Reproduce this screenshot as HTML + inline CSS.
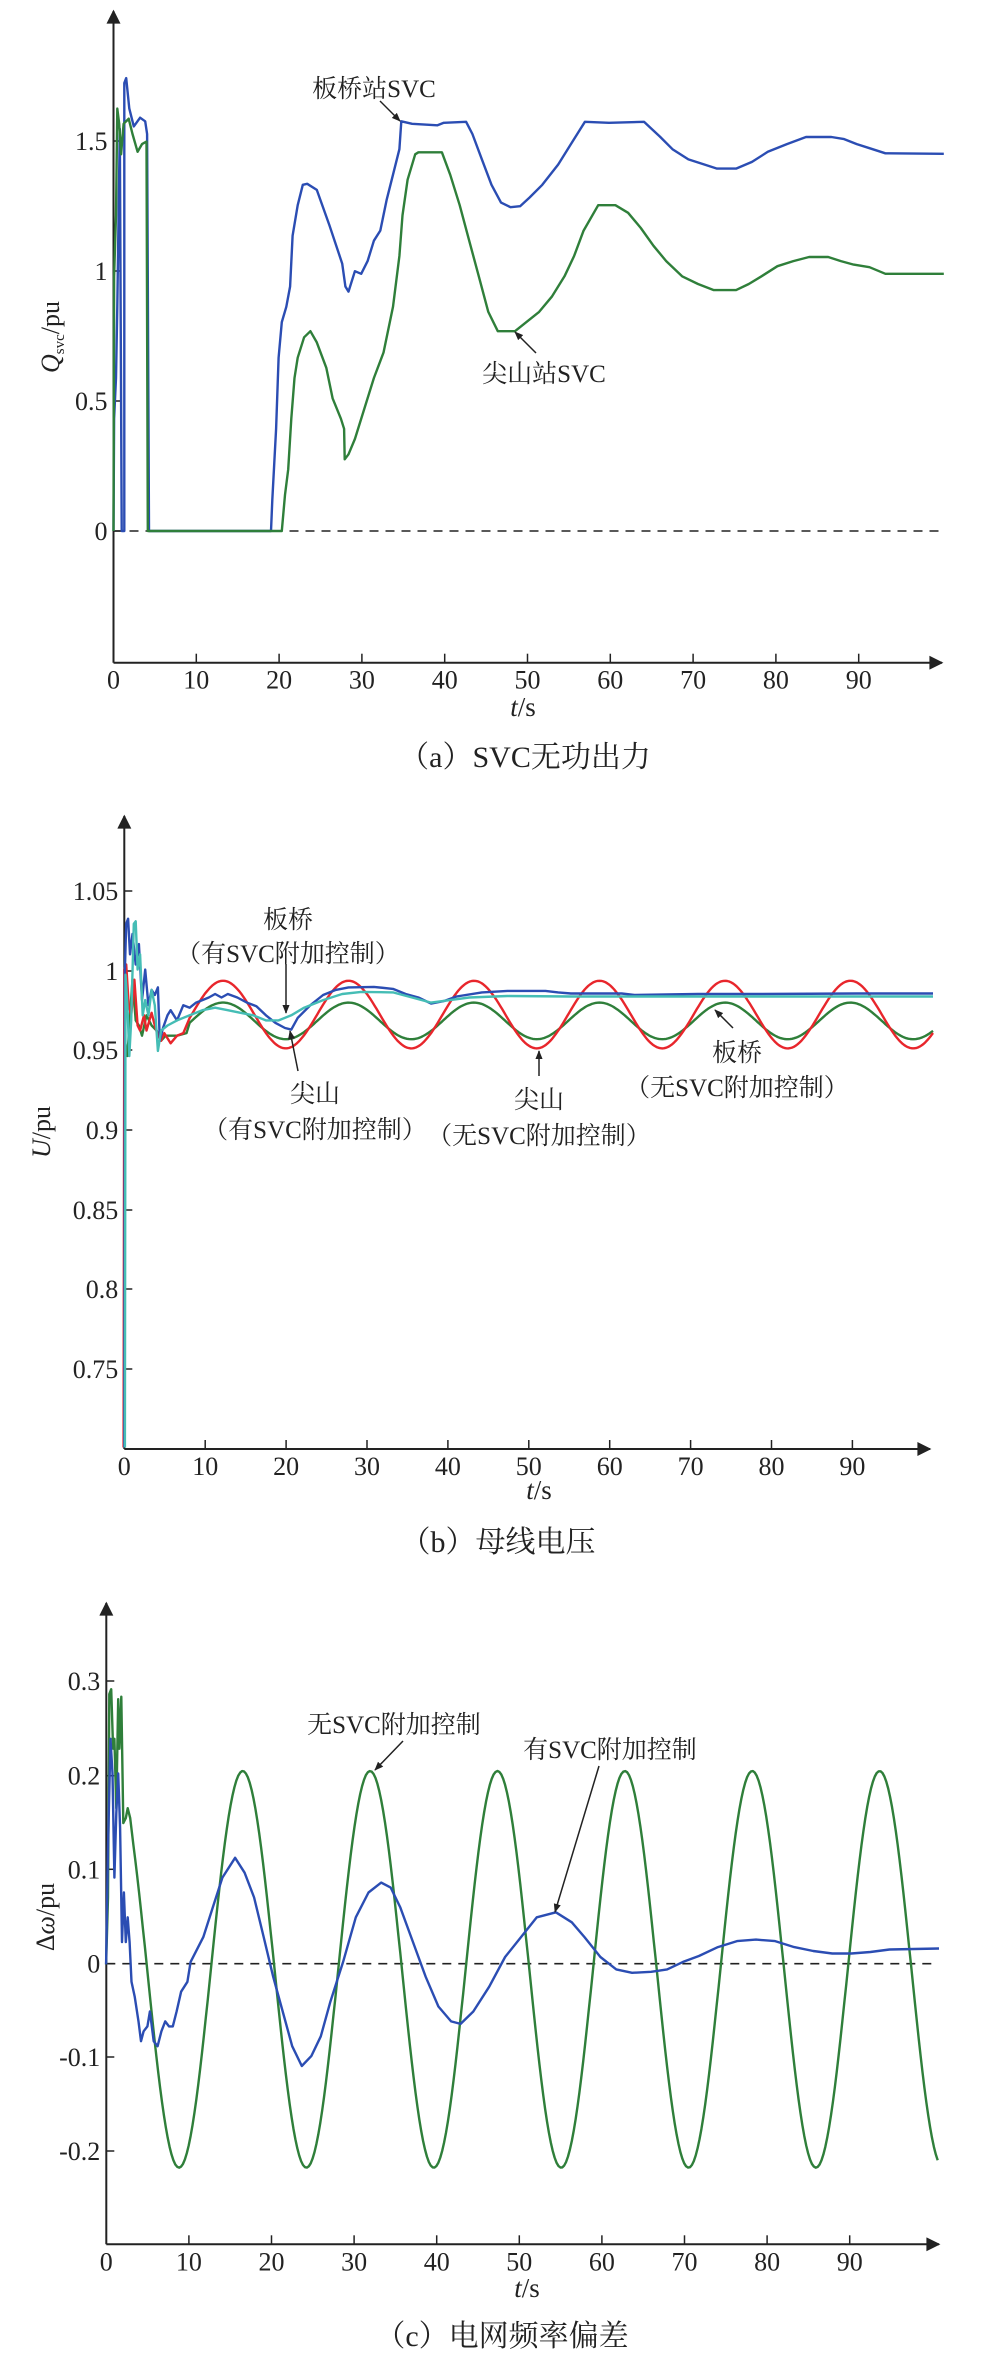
<!DOCTYPE html>
<html><head><meta charset="utf-8"><style>
html,body{margin:0;padding:0;background:#fff;}
svg{display:block;}
text{font-family:"Liberation Serif","Noto Serif CJK SC","Noto Sans CJK SC",serif;fill:#222;}
.tk{font-size:26px;}
.an{font-size:25px;}
.cap{font-size:30px;}
</style></head><body>
<svg id="s" width="995" height="2377" viewBox="0 0 995 2377" xmlns="http://www.w3.org/2000/svg">
<defs>
<marker id="ah" viewBox="0 0 10 10" refX="9" refY="5" markerWidth="9" markerHeight="9" orient="auto" markerUnits="userSpaceOnUse"><path d="M0,1 L10,5 L0,9 Z" fill="#222"/></marker>
<marker id="ax" viewBox="0 0 10 10" refX="9" refY="5" markerWidth="20" markerHeight="14" orient="auto" markerUnits="userSpaceOnUse"><path d="M0,0 L10,5 L0,10 Z" fill="#222"/></marker>
</defs>
<g id="g"></g>
<text class="an" x="374" y="97" text-anchor="middle">板桥站SVC</text>
<line x1="380" y1="101" x2="400" y2="121" stroke="#222" stroke-width="1.5" marker-end="url(#ah)"/>
<text class="an" x="544" y="382" text-anchor="middle">尖山站SVC</text>
<line x1="536" y1="353" x2="515" y2="332" stroke="#222" stroke-width="1.5" marker-end="url(#ah)"/>
<text x="59" y="337" font-size="26" text-anchor="middle" transform="rotate(-90 59 337)"><tspan font-style="italic">Q</tspan><tspan font-size="15" dy="5">svc</tspan><tspan dy="-5">/pu</tspan></text>
<text class="cap" x="525" y="767" text-anchor="middle">（a）SVC无功出力</text>
<text x="523" y="716" font-size="27" text-anchor="middle"><tspan font-style="italic">t</tspan>/s</text>
<text class="an" x="288" y="928" text-anchor="middle">板桥</text>
<text class="an" x="288" y="962" text-anchor="middle">（有SVC附加控制）</text>
<line x1="286" y1="964" x2="286" y2="1013" stroke="#222" stroke-width="1.5" marker-end="url(#ah)"/>
<text class="an" x="315" y="1102" text-anchor="middle">尖山</text>
<text class="an" x="315" y="1138" text-anchor="middle">（有SVC附加控制）</text>
<line x1="298" y1="1071" x2="290" y2="1031" stroke="#222" stroke-width="1.5" marker-end="url(#ah)"/>
<text class="an" x="539" y="1108" text-anchor="middle">尖山</text>
<text class="an" x="539" y="1144" text-anchor="middle">（无SVC附加控制）</text>
<line x1="539" y1="1076" x2="539" y2="1051" stroke="#222" stroke-width="1.5" marker-end="url(#ah)"/>
<text class="an" x="737" y="1061" text-anchor="middle">板桥</text>
<text class="an" x="737" y="1096" text-anchor="middle">（无SVC附加控制）</text>
<line x1="733" y1="1028" x2="715" y2="1010" stroke="#222" stroke-width="1.5" marker-end="url(#ah)"/>
<text x="50" y="1132" font-size="26" text-anchor="middle" transform="rotate(-90 50 1132)"><tspan font-style="italic">U</tspan>/pu</text>
<text class="cap" x="498" y="1552" text-anchor="middle">（b）母线电压</text>
<text x="539" y="1499" font-size="27" text-anchor="middle"><tspan font-style="italic">t</tspan>/s</text>
<text class="an" x="394" y="1733" text-anchor="middle">无SVC附加控制</text>
<line x1="403" y1="1741" x2="375" y2="1770" stroke="#222" stroke-width="1.5" marker-end="url(#ah)"/>
<text class="an" x="610" y="1758" text-anchor="middle">有SVC附加控制</text>
<line x1="599" y1="1766" x2="555" y2="1912" stroke="#222" stroke-width="1.5" marker-end="url(#ah)"/>
<text x="54" y="1917" font-size="26" text-anchor="middle" transform="rotate(-90 54 1917)">Δ<tspan font-style="italic">ω</tspan>/pu</text>
<text class="cap" x="502" y="2346" text-anchor="middle">（c）电网频率偏差</text>
<text x="527" y="2297" font-size="27" text-anchor="middle"><tspan font-style="italic">t</tspan>/s</text>
</svg>
<script>
(function(){
var g=document.getElementById('g'),NS='http://www.w3.org/2000/svg';
function el(n,a,t){var e=document.createElementNS(NS,n);for(var k in a)e.setAttribute(k,a[k]);if(t!==undefined)e.textContent=t;g.appendChild(e);return e;}
function path(pts,col,w){var d='';pts.forEach(function(p,i){d+=(i?'L':'M')+p[0].toFixed(1)+','+p[1].toFixed(1);});el('path',{d:d,fill:'none',stroke:col,'stroke-width':w||2.4,'stroke-linejoin':'round'});}
var BL='#2b4db3',GR='#2f7f3a',RD='#e8262c',CY='#45bdb5';
function axes(x0,yb,ytop,xend,xt,yt){
 el('line',{x1:x0,y1:yb,x2:x0,y2:ytop+2,stroke:'#222','stroke-width':2,'marker-end':'url(#ax)'});
 el('line',{x1:x0,y1:yb,x2:xend,y2:yb,stroke:'#222','stroke-width':2,'marker-end':'url(#ax)'});
 xt.forEach(function(t){ if(t[1]!=='0') el('line',{x1:t[0],y1:yb,x2:t[0],y2:yb-9,stroke:'#222','stroke-width':1.5}); el('text',{x:t[0],y:yb+26,'class':'tk','text-anchor':'middle'},t[1]);});
 yt.forEach(function(t){ el('line',{x1:x0,y1:t[0],x2:x0+8,y2:t[0],stroke:'#222','stroke-width':1.5}); el('text',{x:x0-6,y:t[0]+9,'class':'tk','text-anchor':'end'},t[1]);});
}
function A(p){return p.map(function(q){return [q[0]/1.574-0.9, q[1]/1.967+1.8];});}
var xa=[];for(var i=0;i<10;i++)xa.push([113.5+i*82.8,''+i*10]);
axes(113.5,662.7,9,942,xa,[[531,'0'],[401,'0.5'],[271,'1'],[141,'1.5']]);
el('line',{x1:113.5,y1:531,x2:940,y2:531,stroke:'#222','stroke-width':1.6,'stroke-dasharray':'9,7'});
path(A([[180,1041],[181,820],[184,740],[186,600],[190,250],[193,1041],[197,1041],[197,160],[200,150],[205,210],[212,245],[222,228],[230,235],[233,260],[236,1041],[428,1041],[430,980],[433,910],[436,840],[440,700],[445,630],[452,600],[458,560],[462,460],[470,400],[478,360],[485,358],[500,370],[520,440],[540,515],[545,560],[550,570],[560,530],[570,535],[580,510],[590,470],[600,450],[610,390],[620,340],[630,290],[633,235],[650,240],[690,243],[700,238],[735,236],[745,260],[760,310],[775,360],[790,395],[805,404],[820,402],[835,385],[855,360],[880,320],[900,280],[922,236],[960,238],[1015,236],[1040,265],[1060,290],[1085,310],[1110,320],[1130,328],[1160,328],[1185,315],[1210,295],[1240,280],[1270,266],[1310,266],[1330,270],[1350,280],[1370,288],[1395,298],[1487,299]]),BL);
path(A([[180,1041],[181,540],[184,420],[186,210],[189,240],[192,300],[196,240],[204,230],[210,260],[218,295],[225,280],[232,275],[234,1041],[445,1041],[450,970],[455,920],[460,820],[465,740],[470,700],[480,660],[490,648],[500,670],[515,720],[525,780],[538,820],[543,840],[544,900],[550,890],[560,860],[575,800],[590,740],[605,690],[620,600],[630,500],[635,420],[643,350],[655,300],[660,296],[697,296],[710,340],[725,400],[740,470],[755,540],[770,610],[785,648],[812,648],[830,630],[850,610],[870,580],[890,540],[905,500],[920,450],[943,400],[970,400],[990,415],[1010,445],[1030,480],[1050,510],[1075,540],[1100,555],[1125,567],[1160,567],[1180,555],[1200,540],[1225,520],[1250,510],[1275,502],[1305,502],[1325,510],[1345,517],[1370,522],[1395,535],[1487,535]]),GR);
function B(p){return p.map(function(q){return [q[0]/1.574-0.9, 800+q[1]/1.967+1.8];});}
var xb=[];for(i=0;i<10;i++)xb.push([124.3+i*80.9,''+i*10]);
axes(124.3,1449,814,930,xb,[[1369,'0.75'],[1289,'0.8'],[1210,'0.85'],[1130,'0.9'],[1050,'0.95'],[971,'1'],[891,'1.05']]);
function sine(pts,x0,x1,c,a){for(var x=x0;x<=x1;x+=3)pts.push([x,c-a*Math.cos(2*Math.PI*(x-550)/197.5)]);return pts;}
var red=[[196,1270],[197,330],[200,320],[204,400],[208,420],[213,350],[218,440],[222,450],[228,420],[232,450],[240,415],[245,440],[250,460],[255,470],[260,455],[270,475],[280,460],[290,455]];
sine(red,300,1470,418.5,66.5);
var grn=[[197,1270],[198,470],[202,500],[206,420],[210,350],[215,430],[220,440],[225,460],[232,420],[240,440],[248,450],[255,470],[262,460],[280,460],[295,455]];
sine(grn,300,1470,431,36);
path(B(grn),GR);
path(B(red),RD);
path(B([[197,1270],[198,330],[200,240],[203,230],[206,300],[210,260],[215,320],[220,280],[225,390],[230,330],[235,400],[240,370],[245,380],[250,365],[253,470],[258,445],[265,420],[270,410],[280,430],[290,400],[300,405],[310,395],[320,390],[330,385],[340,378],[350,385],[360,378],[375,385],[390,395],[405,402],[420,420],[435,435],[450,445],[460,448],[470,425],[490,400],[510,380],[530,370],[550,365],[590,364],[620,368],[640,378],[660,385],[680,397],[700,392],[720,383],[760,375],[800,372],[860,372],[880,375],[900,377],[980,377],[1000,380],[1100,378],[1200,378],[1350,377],[1470,377]]),BL);
path(B([[198,1270],[199,340],[202,400],[205,500],[208,430],[212,240],[215,235],[218,330],[222,300],[226,420],[230,390],[235,420],[240,370],[245,400],[250,490],[255,450],[265,440],[280,430],[300,420],[320,410],[340,405],[360,410],[380,415],[400,420],[420,430],[440,430],[460,420],[480,405],[510,390],[540,378],[570,374],[620,375],[650,385],[680,395],[710,390],[740,385],[800,382],[900,383],[1000,383],[1470,383]]),CY);
function C(p){return p.map(function(q){return [q[0]/1.574, 1600+q[1]/2.017];});}
var xc=[];for(i=0;i<10;i++)xc.push([106.3+i*82.6,''+i*10]);
axes(106.3,2244.3,1601,939,xc,[[1681,'0.3'],[1775.7,'0.2'],[1869.3,'0.1'],[1963.7,'0'],[2057,'-0.1'],[2151,'-0.2']]);
el('line',{x1:106.3,y1:1963.7,x2:937,y2:1963.7,stroke:'#222','stroke-width':1.6,'stroke-dasharray':'9,7'});
var gc=[[167,735],[170,600],[172,190],[175,180],[178,300],[180,280],[183,420],[186,200],[188,300],[191,195],[194,450],[198,440],[201,420],[205,440]];
for(var x=210;x<=1478;x+=3)gc.push([x,745-400*Math.cos(2*Math.PI*(x-382)/200.5)]);
path(C(gc),GR);
path(C([[167,735],[170,500],[174,280],[177,350],[180,560],[183,430],[186,350],[189,460],[192,690],[195,590],[198,690],[201,640],[204,690],[207,770],[212,800],[218,850],[222,890],[226,870],[232,860],[236,830],[242,890],[248,900],[254,870],[260,850],[266,860],[272,860],[278,830],[285,790],[295,770],[300,730],[320,680],[335,620],[350,560],[370,520],[385,550],[400,600],[415,680],[430,760],[445,830],[460,900],[475,940],[490,920],[505,880],[520,810],[540,730],[560,640],[580,590],[600,570],[615,580],[630,620],[650,690],[670,760],[690,820],[710,850],[725,855],[745,830],[770,780],[795,720],[820,680],[845,640],[875,630],[900,650],[920,680],[945,720],[970,745],[995,752],[1025,750],[1050,745],[1075,730],[1100,718],[1130,700],[1160,688],[1190,685],[1220,688],[1250,700],[1280,708],[1310,713],[1340,713],[1370,710],[1400,705],[1478,703]]),BL);
})();
</script>
</body></html>
